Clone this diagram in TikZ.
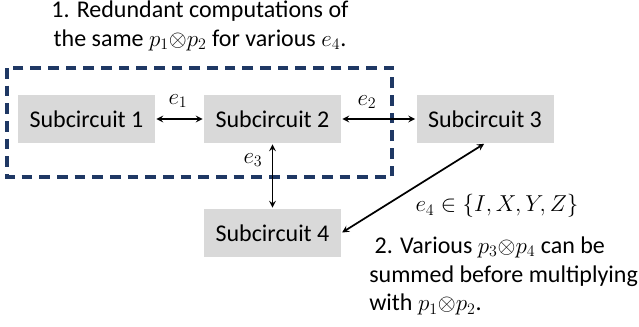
\documentclass[tikz,border=0pt]{standalone}
\usepackage{amsmath,amssymb}
\usepackage{fontspec}
\setmainfont{Carlito}
\usepackage{xcolor}
\definecolor{boxgray}{RGB}{217,217,217}
\definecolor{navy}{RGB}{31,56,100}

\begin{document}
\begin{tikzpicture}[x=0.75pt,y=0.75pt,yscale=-1,xscale=1,
  sub/.style={fill=boxgray, minimum width=102.75pt, minimum height=36pt, inner sep=0pt, font=\fontsize{18}{21}\selectfont},
  lbl/.style={inner sep=0.75pt, font=\fontsize{18}{21.5}\selectfont},
  conn/.style={<->, >=stealth, line width=1.3pt, shorten <=0.75pt, shorten >=0.75pt}]
\useasboundingbox (0,0) rectangle (639,326);

%Dashed group of subcircuits 1 and 2
\draw [navy, line width=2.3pt, dash pattern={on 8pt off 5.25pt}] (7,68) rectangle (392,177);

%Subcircuit boxes
\node [sub] (s1) at (86.5,119) {Subcircuit 1};
\node [sub] (s2) at (272.5,119) {Subcircuit 2};
\node [sub] (s3) at (485,119) {Subcircuit 3};
\node [sub] (s4) at (272.5,233) {Subcircuit 4};

%Connectors
\draw [conn] (s1) -- (s2);
\draw [conn] (s2) -- (s3);
\draw [conn] (s2) -- (s4);
\draw [conn] (s3.south) -- (s4.east);

% Text Node
\node [lbl] (e1) at (178,101) {$e_1$};
% Text Node
\node [lbl] (e2) at (367,102) {$e_2$};
% Text Node
\node [lbl] (e3) at (253,160) {$e_3$};
% Text Node
\node [lbl] (e4) at (497,206) {$e_4\in\{I,X,Y,Z\}$};
% Text Node
\node [lbl, align=center] (note1) at (200,26) {1. Redundant computations of\\the same $p_1{\otimes}p_2$ for various $e_4$.};
% Text Node
\node [lbl, align=left, anchor=west] (note2) at (368,276) {\ 2. Various $p_3{\otimes}p_4$ can be\\summed before multiplying\\with $p_1{\otimes}p_2$.};

\end{tikzpicture}
\end{document}
